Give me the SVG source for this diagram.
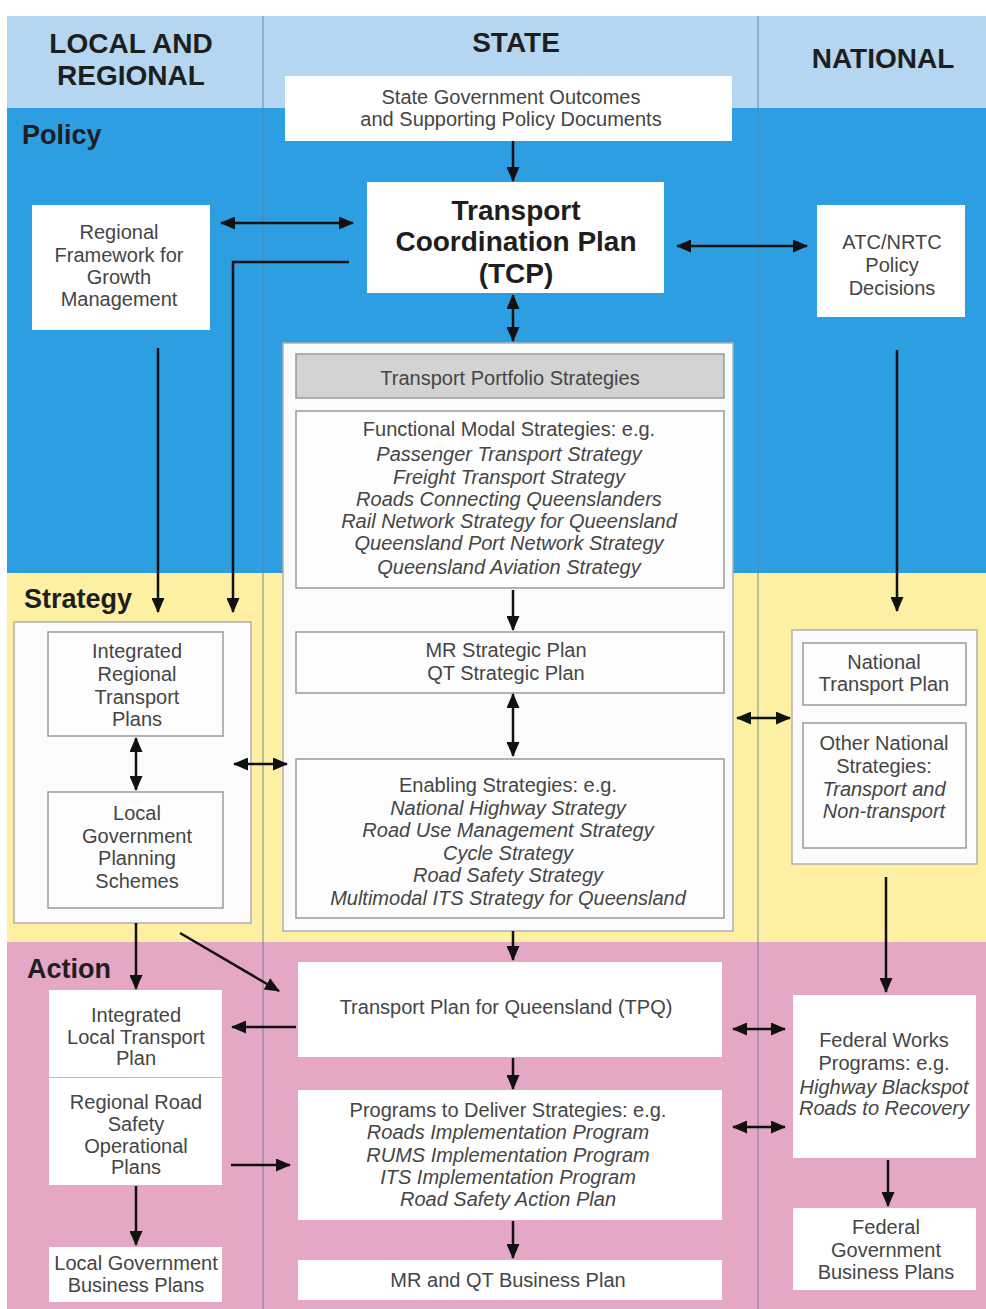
<svg xmlns="http://www.w3.org/2000/svg" width="986" height="1309" viewBox="0 0 986 1309">
<defs>
<style>
.hdr{font-family:"Liberation Sans",Arial,sans-serif;font-weight:bold;font-size:28px;fill:#1e1e1e;text-anchor:middle}
.sec{font-family:"Liberation Sans",Arial,sans-serif;font-weight:bold;font-size:27px;fill:#1e1e1e}
.t{font-family:"Liberation Sans",Arial,sans-serif;font-size:20px;fill:#454545;text-anchor:middle}
.i{font-style:italic}
.tcp{font-family:"Liberation Sans",Arial,sans-serif;font-weight:bold;font-size:28px;fill:#1e1e1e;text-anchor:middle}
.box{fill:#fdfdfd;stroke:#9a9a9a;stroke-width:1.5}
.wbox{fill:#ffffff;stroke:none}
.outer{fill:#fbfbfb;stroke:#b0b0b0;stroke-width:1.5}
.gray{fill:#d3d3d3;stroke:#9a9a9a;stroke-width:1.5}
.ln{stroke:#111;stroke-width:2.5;fill:none}
.div{stroke:#6a7f92;stroke-width:1.5;opacity:0.6}
</style>
<marker id="ah" markerUnits="userSpaceOnUse" markerWidth="15" markerHeight="13" refX="14" refY="6.5" orient="auto-start-reverse">
<path d="M0,0 L15,6.5 L0,13 z" fill="#111"/>
</marker>
</defs>

<g id="background">
<rect x="0" y="0" width="986" height="1309" fill="#ffffff"/>
<rect x="7" y="16" width="979" height="92" fill="#b4d6f1"/>
<rect x="7" y="108" width="979" height="465" fill="#2e9ee3"/>
<rect x="7" y="573" width="979" height="369" fill="#fdf0a3"/>
<rect x="7" y="942" width="979" height="367" fill="#e4a8c6"/>
<line class="div" x1="263" y1="16" x2="263" y2="1309"/>
<line class="div" x1="758" y1="16" x2="758" y2="1309"/>
</g>

<g id="headers">
<text class="hdr" x="131" y="53">LOCAL AND</text>
<text class="hdr" x="131" y="85">REGIONAL</text>
<text class="hdr" x="516" y="52">STATE</text>
<text class="hdr" x="883" y="68">NATIONAL</text>
<text class="sec" x="22" y="144">Policy</text>
<text class="sec" x="24" y="608">Strategy</text>
<text class="sec" x="27" y="978">Action</text>
</g>

<g id="state-gov">
<rect class="wbox" x="285" y="76" width="447" height="65"/>
<text class="t" x="511" y="104">State Government Outcomes</text>
<text class="t" x="511" y="126">and Supporting Policy Documents</text>
</g>

<g id="tcp">
<rect class="wbox" x="367" y="182" width="297" height="111"/>
<text class="tcp" x="516" y="220">Transport</text>
<text class="tcp" x="516" y="251">Coordination Plan</text>
<text class="tcp" x="516" y="283">(TCP)</text>
</g>

<g id="regional-framework">
<rect class="wbox" x="32" y="205" width="178" height="125"/>
<text class="t" x="119" y="239">Regional</text>
<text class="t" x="119" y="262">Framework for</text>
<text class="t" x="119" y="284">Growth</text>
<text class="t" x="119" y="306">Management</text>
</g>

<g id="atc">
<rect class="wbox" x="817" y="205" width="148" height="112"/>
<text class="t" x="892" y="249">ATC/NRTC</text>
<text class="t" x="892" y="272">Policy</text>
<text class="t" x="892" y="295">Decisions</text>
</g>

<g id="state-strategies">
<rect class="outer" x="283" y="343" width="450" height="588"/>
</g>

<g id="portfolio">
<rect class="gray" x="296" y="354" width="428" height="44"/>
<text class="t" x="510" y="385">Transport Portfolio Strategies</text>
</g>

<g id="functional">
<rect class="box" x="296" y="411" width="428" height="177"/>
<text class="t" x="509" y="436">Functional Modal Strategies: e.g.</text>
<text class="t i" x="509" y="461">Passenger Transport Strategy</text>
<text class="t i" x="509" y="484">Freight Transport Strategy</text>
<text class="t i" x="509" y="506">Roads Connecting Queenslanders</text>
<text class="t i" x="509" y="528">Rail Network Strategy for Queensland</text>
<text class="t i" x="509" y="550">Queensland Port Network Strategy</text>
<text class="t i" x="509" y="574">Queensland Aviation Strategy</text>
</g>

<g id="mr-strategic">
<rect class="box" x="296" y="632" width="428" height="61"/>
<text class="t" x="506" y="657">MR Strategic Plan</text>
<text class="t" x="506" y="680">QT Strategic Plan</text>
</g>

<g id="enabling">
<rect class="box" x="296" y="759" width="428" height="159"/>
<text class="t" x="508" y="792">Enabling Strategies: e.g.</text>
<text class="t i" x="508" y="815">National Highway Strategy</text>
<text class="t i" x="508" y="837">Road Use Management Strategy</text>
<text class="t i" x="508" y="860">Cycle Strategy</text>
<text class="t i" x="508" y="882">Road Safety Strategy</text>
<text class="t i" x="508" y="905">Multimodal ITS Strategy for Queensland</text>
</g>

<g id="local-strategy">
<rect class="outer" x="14" y="622" width="237" height="301"/>
</g>

<g id="irtp">
<rect class="box" x="48" y="632" width="175" height="104"/>
<text class="t" x="137" y="658">Integrated</text>
<text class="t" x="137" y="681">Regional</text>
<text class="t" x="137" y="704">Transport</text>
<text class="t" x="137" y="726">Plans</text>
</g>

<g id="lgps">
<rect class="box" x="48" y="792" width="175" height="116"/>
<text class="t" x="137" y="820">Local</text>
<text class="t" x="137" y="843">Government</text>
<text class="t" x="137" y="865">Planning</text>
<text class="t" x="137" y="888">Schemes</text>
</g>

<g id="national-strategy">
<rect class="outer" x="792" y="630" width="185" height="234"/>
</g>

<g id="ntp">
<rect class="box" x="803" y="643" width="163" height="62"/>
<text class="t" x="884" y="669">National</text>
<text class="t" x="884" y="691">Transport Plan</text>
</g>

<g id="other-national">
<rect class="box" x="803" y="723" width="163" height="125"/>
<text class="t" x="884" y="750">Other National</text>
<text class="t" x="884" y="773">Strategies:</text>
<text class="t i" x="884" y="796">Transport and</text>
<text class="t i" x="884" y="818">Non-transport</text>
</g>

<g id="tpq">
<rect class="wbox" x="298" y="962" width="424" height="95"/>
<text class="t" x="506" y="1014">Transport Plan for Queensland (TPQ)</text>
</g>

<g id="programs">
<rect class="wbox" x="298" y="1090" width="424" height="130"/>
<text class="t" x="508" y="1117">Programs to Deliver Strategies: e.g.</text>
<text class="t i" x="508" y="1139">Roads Implementation Program</text>
<text class="t i" x="508" y="1162">RUMS Implementation Program</text>
<text class="t i" x="508" y="1184">ITS Implementation Program</text>
<text class="t i" x="508" y="1206">Road Safety Action Plan</text>
</g>

<g id="mrqt-business">
<rect class="wbox" x="298" y="1260" width="424" height="40"/>
<text class="t" x="508" y="1287">MR and QT Business Plan</text>
</g>

<g id="iltp">
<rect class="wbox" x="49" y="990" width="173" height="87"/>
<text class="t" x="136" y="1022">Integrated</text>
<text class="t" x="136" y="1044">Local Transport</text>
<text class="t" x="136" y="1065">Plan</text>
</g>

<g id="rrsop">
<rect class="wbox" x="49" y="1078" width="173" height="107"/>
<line x1="49" y1="1077.5" x2="222" y2="1077.5" stroke="#c8b8c0" stroke-width="1"/>
<text class="t" x="136" y="1109">Regional Road</text>
<text class="t" x="136" y="1131">Safety</text>
<text class="t" x="136" y="1153">Operational</text>
<text class="t" x="136" y="1174">Plans</text>
</g>

<g id="lgbp">
<rect class="wbox" x="49" y="1247" width="173" height="55"/>
<text class="t" x="136" y="1270">Local Government</text>
<text class="t" x="136" y="1292">Business Plans</text>
</g>

<g id="federal-works">
<rect class="wbox" x="793" y="995" width="183" height="163"/>
<text class="t" x="884" y="1047">Federal Works</text>
<text class="t" x="884" y="1070">Programs: e.g.</text>
<text class="t i" x="884" y="1094">Highway Blackspot</text>
<text class="t i" x="884" y="1115">Roads to Recovery</text>
</g>

<g id="federal-business">
<rect class="wbox" x="793" y="1208" width="183" height="82"/>
<text class="t" x="886" y="1234">Federal</text>
<text class="t" x="886" y="1257">Government</text>
<text class="t" x="886" y="1279">Business Plans</text>
</g>

<g id="connectors">
<line class="ln" x1="513" y1="141" x2="513" y2="181" marker-end="url(#ah)"/>
<line class="ln" x1="221" y1="223" x2="353" y2="223" marker-start="url(#ah)" marker-end="url(#ah)"/>
<polyline class="ln" points="349,262 233,262 233,612" marker-end="url(#ah)"/>
<line class="ln" x1="158" y1="348" x2="158" y2="612" marker-end="url(#ah)"/>
<line class="ln" x1="677" y1="246" x2="807" y2="246" marker-start="url(#ah)" marker-end="url(#ah)"/>
<line class="ln" x1="513" y1="295" x2="513" y2="341" marker-start="url(#ah)" marker-end="url(#ah)"/>
<line class="ln" x1="897" y1="350" x2="897" y2="611" marker-end="url(#ah)"/>
<line class="ln" x1="513" y1="590" x2="513" y2="630" marker-end="url(#ah)"/>
<line class="ln" x1="513" y1="694" x2="513" y2="756" marker-start="url(#ah)" marker-end="url(#ah)"/>
<line class="ln" x1="136" y1="738" x2="136" y2="790" marker-start="url(#ah)" marker-end="url(#ah)"/>
<line class="ln" x1="234" y1="764" x2="287" y2="764" marker-start="url(#ah)" marker-end="url(#ah)"/>
<line class="ln" x1="737" y1="718" x2="790" y2="718" marker-start="url(#ah)" marker-end="url(#ah)"/>
<line class="ln" x1="136" y1="923" x2="136" y2="989" marker-end="url(#ah)"/>
<line class="ln" x1="180" y1="933" x2="279" y2="991" marker-end="url(#ah)"/>
<line class="ln" x1="513" y1="931" x2="513" y2="960" marker-end="url(#ah)"/>
<line class="ln" x1="296" y1="1027" x2="232" y2="1027" marker-end="url(#ah)"/>
<line class="ln" x1="886" y1="877" x2="886" y2="992" marker-end="url(#ah)"/>
<line class="ln" x1="513" y1="1058" x2="513" y2="1089" marker-end="url(#ah)"/>
<line class="ln" x1="231" y1="1165" x2="290" y2="1165" marker-end="url(#ah)"/>
<line class="ln" x1="733" y1="1029" x2="785" y2="1029" marker-start="url(#ah)" marker-end="url(#ah)"/>
<line class="ln" x1="733" y1="1127" x2="785" y2="1127" marker-start="url(#ah)" marker-end="url(#ah)"/>
<line class="ln" x1="136" y1="1186" x2="136" y2="1245" marker-end="url(#ah)"/>
<line class="ln" x1="513" y1="1221" x2="513" y2="1258" marker-end="url(#ah)"/>
<line class="ln" x1="888" y1="1160" x2="888" y2="1206" marker-end="url(#ah)"/>
</g>
</svg>
